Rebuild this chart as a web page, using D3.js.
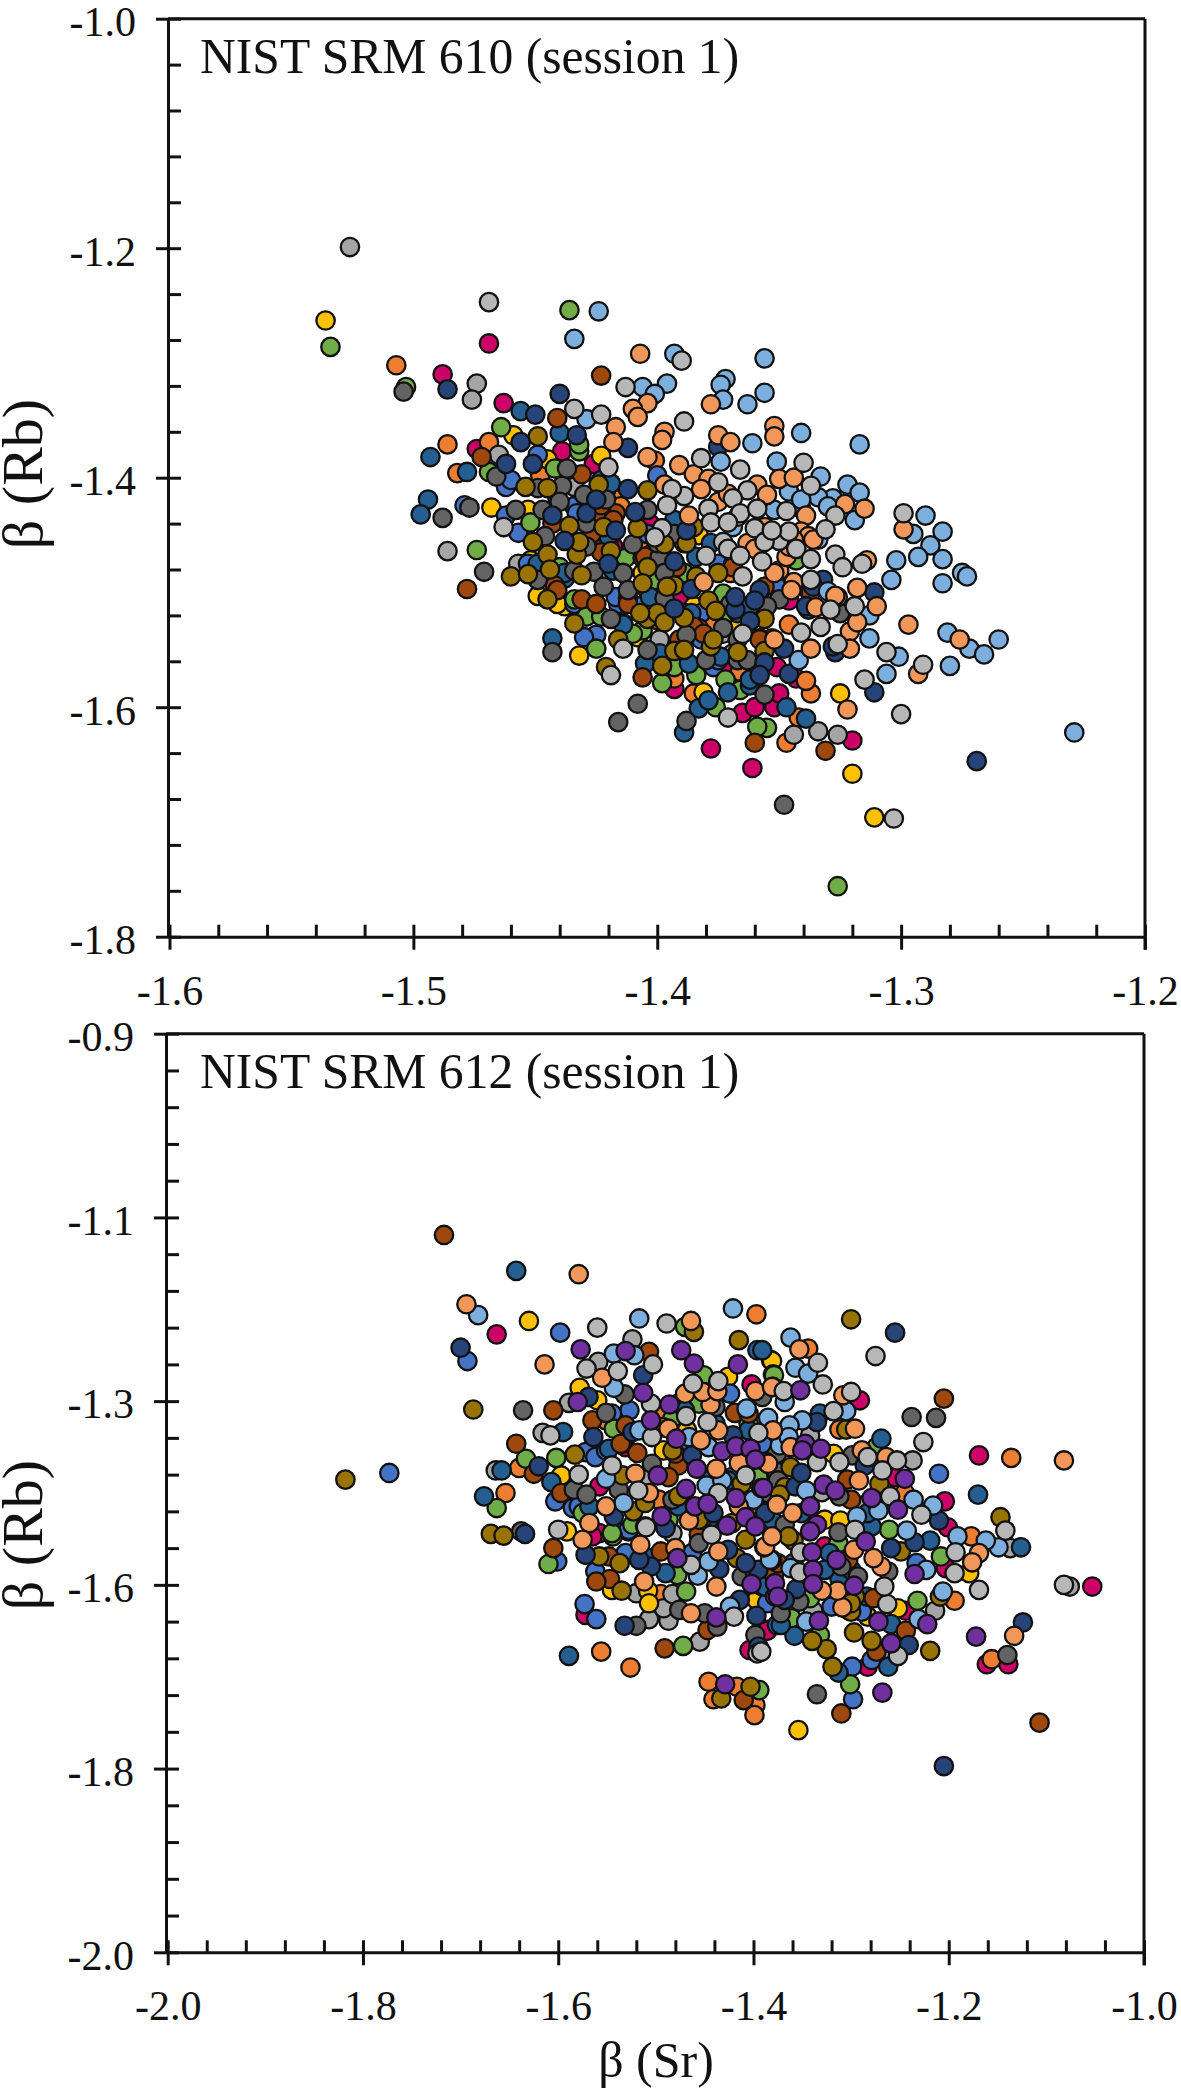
<!DOCTYPE html>
<html>
<head>
<meta charset="utf-8">
<script src="https://cdn.jsdelivr.net/npm/d3@7"></script>
<style>
  html, body { margin: 0; padding: 0; background: #fff; }
  text { font-family: "Liberation Serif", serif; fill: #111; }
  .domain, .tick line, .frame { stroke: #111; stroke-width: 3; fill: none; }
  .tick text { font-size: 42px; font-family: "Liberation Serif", serif; }
  .panel-title { font-size: 49.6px; }
  .axis-label { font-size: 50px; }
  .axis-label-y { font-size: 58px; }
</style>
</head>
<body>
<svg id="chart" width="1181" height="2094"></svg>
<script>
// series colours
const cMagenta = '#CC0066', cOrange = '#ED7D31', cGray = '#A5A5A5', cGold = '#FFC000',
      cBlue = '#4472C4', cGreen = '#70AD47', cDarkBlue = '#255E91', cBrown = '#9E480E',
      cDarkGray = '#636363', cOlive = '#997300', cNavy = '#264478', cLightBlue = '#7CAFDD',
      cLightOrange = '#F1975A', cLightGray = '#B7B7B7', cPurple = '#7030A0';

// NIST SRM 610, [beta Sr, beta Rb]
const s610Magenta = [[-1.469,-1.283],[-1.488,-1.310],[-1.463,-1.335],[-1.439,-1.377],[-1.393,-1.584],[-1.365,-1.605],[-1.360,-1.600],[-1.352,-1.600],[-1.350,-1.588],[-1.378,-1.636],[-1.361,-1.653],[-1.320,-1.629],[-1.474,-1.375],[-1.351,-1.565],[-1.372,-1.568],[-1.426,-1.388],[-1.346,-1.507],[-1.343,-1.575],[-1.403,-1.440],[-1.391,-1.507],[-1.418,-1.460]];
const s610Orange = [[-1.507,-1.302],[-1.486,-1.371],[-1.469,-1.369],[-1.482,-1.396],[-1.346,-1.528],[-1.337,-1.588],[-1.339,-1.577],[-1.347,-1.631],[-1.342,-1.609],[-1.385,-1.588],[-1.366,-1.569],[-1.393,-1.575],[-1.353,-1.540],[-1.448,-1.398],[-1.417,-1.419],[-1.415,-1.425],[-1.423,-1.434],[-1.407,-1.454],[-1.378,-1.530],[-1.370,-1.483],[-1.355,-1.544],[-1.385,-1.524],[-1.401,-1.385],[-1.400,-1.524]];
const s610Gray = [[-1.526,-1.199],[-1.474,-1.318],[-1.476,-1.332],[-1.486,-1.464],[-1.344,-1.624],[-1.334,-1.621],[-1.326,-1.624],[-1.465,-1.380],[-1.457,-1.475],[-1.389,-1.457],[-1.434,-1.408],[-1.369,-1.553],[-1.399,-1.541],[-1.373,-1.536]];
const s610Gold = [[-1.536,-1.263],[-1.311,-1.696],[-1.320,-1.658],[-1.325,-1.588],[-1.468,-1.426],[-1.432,-1.555],[-1.423,-1.381],[-1.459,-1.363],[-1.449,-1.503],[-1.438,-1.512],[-1.381,-1.587],[-1.445,-1.384],[-1.453,-1.428],[-1.383,-1.450],[-1.408,-1.539],[-1.410,-1.507],[-1.425,-1.460],[-1.385,-1.512],[-1.434,-1.457],[-1.406,-1.483],[-1.369,-1.530],[-1.441,-1.510],[-1.452,-1.472]];
const s610Blue = [[-1.400,-1.398],[-1.462,-1.408],[-1.462,-1.433],[-1.457,-1.448],[-1.479,-1.424],[-1.425,-1.537],[-1.430,-1.539],[-1.434,-1.510],[-1.416,-1.510],[-1.382,-1.518],[-1.377,-1.565],[-1.449,-1.380],[-1.453,-1.475],[-1.414,-1.541],[-1.417,-1.504],[-1.400,-1.489],[-1.434,-1.425],[-1.460,-1.402],[-1.414,-1.527],[-1.433,-1.431],[-1.441,-1.417],[-1.408,-1.512],[-1.396,-1.478],[-1.382,-1.541],[-1.375,-1.475],[-1.401,-1.495],[-1.351,-1.495],[-1.375,-1.559],[-1.404,-1.449],[-1.421,-1.411]];
const s610Green = [[-1.436,-1.254],[-1.534,-1.286],[-1.326,-1.756],[-1.503,-1.321],[-1.464,-1.356],[-1.474,-1.463],[-1.452,-1.439],[-1.432,-1.377],[-1.432,-1.371],[-1.425,-1.549],[-1.429,-1.521],[-1.406,-1.533],[-1.398,-1.579],[-1.384,-1.572],[-1.376,-1.600],[-1.355,-1.618],[-1.359,-1.617],[-1.372,-1.576],[-1.413,-1.470],[-1.434,-1.506],[-1.469,-1.395],[-1.442,-1.392],[-1.366,-1.585],[-1.373,-1.501],[-1.389,-1.483],[-1.440,-1.478],[-1.423,-1.521],[-1.401,-1.489],[-1.389,-1.518],[-1.371,-1.518],[-1.410,-1.536],[-1.420,-1.457],[-1.343,-1.472],[-1.393,-1.565]];
const s610DarkBlue = [[-1.456,-1.342],[-1.440,-1.361],[-1.493,-1.382],[-1.494,-1.419],[-1.497,-1.432],[-1.443,-1.540],[-1.383,-1.601],[-1.389,-1.622],[-1.371,-1.587],[-1.379,-1.594],[-1.347,-1.600],[-1.339,-1.610],[-1.478,-1.395],[-1.362,-1.581],[-1.387,-1.562],[-1.405,-1.562],[-1.414,-1.528],[-1.438,-1.488],[-1.423,-1.402],[-1.449,-1.475],[-1.438,-1.483],[-1.403,-1.504],[-1.384,-1.469],[-1.378,-1.457],[-1.367,-1.518],[-1.362,-1.512],[-1.419,-1.405],[-1.420,-1.451],[-1.418,-1.481],[-1.399,-1.553],[-1.374,-1.556],[-1.362,-1.576],[-1.386,-1.518],[-1.393,-1.437]];
const s610Brown = [[-1.423,-1.311],[-1.441,-1.348],[-1.472,-1.382],[-1.431,-1.397],[-1.417,-1.431],[-1.478,-1.497],[-1.427,-1.457],[-1.406,-1.470],[-1.442,-1.494],[-1.431,-1.506],[-1.425,-1.510],[-1.412,-1.505],[-1.383,-1.531],[-1.406,-1.574],[-1.360,-1.631],[-1.331,-1.638],[-1.358,-1.540],[-1.369,-1.476],[-1.423,-1.428],[-1.378,-1.541],[-1.338,-1.498],[-1.425,-1.432],[-1.423,-1.424],[-1.423,-1.465],[-1.418,-1.437],[-1.405,-1.469],[-1.412,-1.510],[-1.385,-1.530],[-1.381,-1.536],[-1.358,-1.541],[-1.369,-1.478],[-1.392,-1.478],[-1.427,-1.449],[-1.441,-1.498],[-1.443,-1.440],[-1.391,-1.541],[-1.337,-1.500],[-1.356,-1.495]];
const s610DarkGray = [[-1.504,-1.325],[-1.348,-1.685],[-1.488,-1.435],[-1.477,-1.426],[-1.471,-1.482],[-1.443,-1.552],[-1.408,-1.597],[-1.416,-1.613],[-1.388,-1.612],[-1.466,-1.399],[-1.458,-1.428],[-1.446,-1.451],[-1.439,-1.407],[-1.440,-1.421],[-1.437,-1.392],[-1.429,-1.440],[-1.426,-1.482],[-1.422,-1.495],[-1.414,-1.483],[-1.412,-1.498],[-1.419,-1.523],[-1.404,-1.550],[-1.380,-1.559],[-1.373,-1.531],[-1.350,-1.506],[-1.356,-1.589],[-1.449,-1.489],[-1.367,-1.559],[-1.410,-1.458],[-1.399,-1.469],[-1.397,-1.505],[-1.388,-1.537],[-1.430,-1.415],[-1.447,-1.428],[-1.449,-1.409],[-1.404,-1.428],[-1.429,-1.460],[-1.400,-1.457],[-1.396,-1.454],[-1.393,-1.449],[-1.397,-1.483],[-1.370,-1.510],[-1.363,-1.559],[-1.355,-1.512],[-1.434,-1.481],[-1.421,-1.419],[-1.367,-1.541],[-1.325,-1.518]];
const s610Olive = [[-1.449,-1.364],[-1.454,-1.408],[-1.445,-1.409],[-1.424,-1.406],[-1.404,-1.411],[-1.436,-1.442],[-1.422,-1.443],[-1.408,-1.444],[-1.451,-1.456],[-1.445,-1.467],[-1.433,-1.467],[-1.432,-1.456],[-1.444,-1.480],[-1.460,-1.486],[-1.453,-1.484],[-1.431,-1.485],[-1.404,-1.478],[-1.406,-1.492],[-1.393,-1.494],[-1.396,-1.495],[-1.445,-1.506],[-1.434,-1.527],[-1.404,-1.523],[-1.400,-1.518],[-1.397,-1.526],[-1.389,-1.522],[-1.379,-1.507],[-1.376,-1.516],[-1.356,-1.523],[-1.416,-1.541],[-1.421,-1.565],[-1.398,-1.564],[-1.393,-1.551],[-1.389,-1.550],[-1.378,-1.547],[-1.367,-1.552],[-1.356,-1.551],[-1.385,-1.443],[-1.388,-1.457],[-1.397,-1.458],[-1.384,-1.486],[-1.375,-1.483],[-1.419,-1.464],[-1.407,-1.518],[-1.377,-1.541]];
const s610Navy = [[-1.269,-1.647],[-1.440,-1.327],[-1.486,-1.323],[-1.450,-1.345],[-1.456,-1.369],[-1.433,-1.363],[-1.412,-1.374],[-1.462,-1.388],[-1.451,-1.388],[-1.443,-1.433],[-1.429,-1.431],[-1.425,-1.419],[-1.412,-1.410],[-1.409,-1.430],[-1.417,-1.446],[-1.388,-1.446],[-1.438,-1.455],[-1.420,-1.475],[-1.393,-1.473],[-1.386,-1.497],[-1.393,-1.514],[-1.368,-1.515],[-1.358,-1.498],[-1.362,-1.525],[-1.356,-1.561],[-1.358,-1.572],[-1.348,-1.549],[-1.346,-1.571],[-1.368,-1.504],[-1.332,-1.489],[-1.311,-1.500],[-1.338,-1.515],[-1.327,-1.552],[-1.311,-1.587],[-1.375,-1.373],[-1.360,-1.507],[-1.336,-1.495],[-1.328,-1.547],[-1.339,-1.512]];
const s610LightBlue = [[-1.424,-1.255],[-1.434,-1.279],[-1.393,-1.292],[-1.356,-1.296],[-1.406,-1.321],[-1.396,-1.318],[-1.401,-1.327],[-1.372,-1.314],[-1.374,-1.319],[-1.373,-1.332],[-1.356,-1.326],[-1.363,-1.336],[-1.341,-1.361],[-1.317,-1.371],[-1.361,-1.370],[-1.429,-1.349],[-1.374,-1.386],[-1.351,-1.386],[-1.333,-1.399],[-1.346,-1.412],[-1.322,-1.406],[-1.317,-1.413],[-1.328,-1.418],[-1.334,-1.417],[-1.341,-1.427],[-1.319,-1.437],[-1.352,-1.428],[-1.313,-1.540],[-1.304,-1.489],[-1.302,-1.472],[-1.306,-1.571],[-1.342,-1.559],[-1.313,-1.520],[-1.330,-1.499],[-1.290,-1.433],[-1.295,-1.449],[-1.283,-1.447],[-1.288,-1.459],[-1.293,-1.469],[-1.283,-1.471],[-1.283,-1.492],[-1.275,-1.483],[-1.273,-1.486],[-1.281,-1.535],[-1.272,-1.549],[-1.266,-1.554],[-1.260,-1.541],[-1.280,-1.564],[-1.301,-1.556],[-1.229,-1.622],[-1.334,-1.454],[-1.341,-1.419],[-1.330,-1.425],[-1.369,-1.443]];
const s610LightOrange = [[-1.407,-1.292],[-1.404,-1.335],[-1.410,-1.340],[-1.408,-1.347],[-1.378,-1.336],[-1.417,-1.356],[-1.418,-1.369],[-1.397,-1.360],[-1.398,-1.367],[-1.375,-1.363],[-1.370,-1.369],[-1.352,-1.355],[-1.352,-1.364],[-1.404,-1.382],[-1.391,-1.389],[-1.385,-1.397],[-1.379,-1.401],[-1.382,-1.410],[-1.397,-1.406],[-1.359,-1.406],[-1.355,-1.415],[-1.375,-1.421],[-1.350,-1.401],[-1.344,-1.400],[-1.339,-1.433],[-1.387,-1.433],[-1.363,-1.457],[-1.360,-1.462],[-1.341,-1.447],[-1.338,-1.451],[-1.350,-1.481],[-1.344,-1.491],[-1.345,-1.498],[-1.381,-1.491],[-1.347,-1.469],[-1.323,-1.423],[-1.315,-1.427],[-1.318,-1.496],[-1.310,-1.512],[-1.326,-1.504],[-1.335,-1.513],[-1.321,-1.534],[-1.318,-1.526],[-1.321,-1.549],[-1.337,-1.549],[-1.314,-1.472],[-1.322,-1.602],[-1.352,-1.541],[-1.297,-1.528],[-1.299,-1.445],[-1.276,-1.541],[-1.327,-1.503],[-1.293,-1.571],[-1.371,-1.414],[-1.367,-1.434],[-1.356,-1.443],[-1.344,-1.454],[-1.346,-1.460],[-1.336,-1.454],[-1.352,-1.483]];
const s610LightGray = [[-1.469,-1.247],[-1.390,-1.298],[-1.413,-1.321],[-1.434,-1.340],[-1.423,-1.345],[-1.389,-1.351],[-1.420,-1.391],[-1.382,-1.383],[-1.366,-1.393],[-1.340,-1.387],[-1.337,-1.407],[-1.375,-1.404],[-1.363,-1.411],[-1.389,-1.416],[-1.394,-1.410],[-1.369,-1.418],[-1.396,-1.424],[-1.379,-1.427],[-1.366,-1.431],[-1.359,-1.427],[-1.347,-1.429],[-1.327,-1.433],[-1.331,-1.445],[-1.398,-1.444],[-1.401,-1.452],[-1.378,-1.439],[-1.371,-1.439],[-1.360,-1.444],[-1.373,-1.456],[-1.371,-1.462],[-1.350,-1.455],[-1.356,-1.456],[-1.343,-1.462],[-1.346,-1.447],[-1.353,-1.446],[-1.380,-1.468],[-1.366,-1.468],[-1.357,-1.473],[-1.365,-1.486],[-1.337,-1.471],[-1.337,-1.489],[-1.327,-1.467],[-1.324,-1.478],[-1.316,-1.475],[-1.319,-1.512],[-1.329,-1.515],[-1.333,-1.530],[-1.341,-1.535],[-1.365,-1.536],[-1.326,-1.545],[-1.306,-1.552],[-1.315,-1.576],[-1.299,-1.431],[-1.300,-1.606],[-1.291,-1.563],[-1.419,-1.572],[-1.371,-1.609],[-1.303,-1.697],[-1.463,-1.443],[-1.414,-1.549]];

// NIST SRM 612, [beta Sr, beta Rb]
const s612Magenta = [[-1.663,-1.260],[-1.402,-1.320],[-1.558,-1.498],[-1.572,-1.596],[-1.386,-1.614],[-1.404,-1.638],[-1.291,-1.339],[-1.255,-1.431],[-1.169,-1.405],[-1.204,-1.460],[-1.201,-1.491],[-1.203,-1.540],[-1.244,-1.591],[-1.283,-1.658],[-1.386,-1.615],[-1.161,-1.655],[-1.139,-1.655],[-1.053,-1.562],[-1.558,-1.442],[-1.531,-1.395],[-1.565,-1.502],[-1.327,-1.514]];
const s612Orange = [[-1.397,-1.236],[-1.654,-1.450],[-1.640,-1.420],[-1.495,-1.571],[-1.556,-1.640],[-1.526,-1.659],[-1.446,-1.676],[-1.417,-1.682],[-1.441,-1.697],[-1.398,-1.704],[-1.399,-1.716],[-1.344,-1.277],[-1.312,-1.374],[-1.136,-1.408],[-1.245,-1.450],[-1.177,-1.502],[-1.194,-1.579],[-1.156,-1.649],[-1.494,-1.357],[-1.497,-1.458],[-1.551,-1.363],[-1.521,-1.427]];
const s612Gray = [[-1.616,-1.378],[-1.664,-1.423],[-1.589,-1.342],[-1.559,-1.293],[-1.524,-1.266],[-1.509,-1.433],[-1.487,-1.603],[-1.507,-1.601],[-1.492,-1.588],[-1.483,-1.571],[-1.520,-1.570],[-1.455,-1.628],[-1.342,-1.381],[-1.237,-1.411],[-1.330,-1.449],[-1.285,-1.464],[-1.137,-1.516],[-1.076,-1.562],[-1.214,-1.591],[-1.339,-1.591],[-1.264,-1.648],[-1.483,-1.498]];
const s612Gold = [[-1.630,-1.244],[-1.597,-1.429],[-1.591,-1.496],[-1.578,-1.324],[-1.560,-1.339],[-1.492,-1.399],[-1.426,-1.311],[-1.382,-1.291],[-1.508,-1.567],[-1.507,-1.582],[-1.397,-1.578],[-1.381,-1.292],[-1.318,-1.403],[-1.327,-1.482],[-1.311,-1.483],[-1.179,-1.546],[-1.354,-1.734],[-1.468,-1.375],[-1.283,-1.598],[-1.252,-1.588],[-1.391,-1.562],[-1.545,-1.566]];
const s612Blue = [[-1.773,-1.426],[-1.598,-1.258],[-1.693,-1.292],[-1.527,-1.351],[-1.572,-1.401],[-1.562,-1.407],[-1.603,-1.460],[-1.585,-1.468],[-1.424,-1.331],[-1.601,-1.532],[-1.528,-1.496],[-1.531,-1.522],[-1.562,-1.544],[-1.573,-1.583],[-1.561,-1.601],[-1.386,-1.582],[-1.210,-1.427],[-1.233,-1.534],[-1.289,-1.592],[-1.279,-1.650],[-1.299,-1.658],[-1.298,-1.697],[-1.545,-1.355],[-1.551,-1.399],[-1.579,-1.466],[-1.528,-1.494],[-1.466,-1.399],[-1.477,-1.343],[-1.422,-1.431],[-1.391,-1.391],[-1.359,-1.534],[-1.320,-1.586],[-1.463,-1.522]];
const s612Green = [[-1.470,-1.251],[-1.663,-1.468],[-1.633,-1.409],[-1.602,-1.408],[-1.543,-1.373],[-1.483,-1.361],[-1.451,-1.309],[-1.380,-1.308],[-1.544,-1.502],[-1.610,-1.535],[-1.478,-1.548],[-1.469,-1.568],[-1.472,-1.633],[-1.394,-1.686],[-1.379,-1.309],[-1.274,-1.395],[-1.261,-1.494],[-1.208,-1.526],[-1.232,-1.579],[-1.301,-1.679],[-1.332,-1.620],[-1.342,-1.576],[-1.575,-1.474],[-1.524,-1.488],[-1.545,-1.498],[-1.405,-1.367],[-1.395,-1.431],[-1.456,-1.343],[-1.487,-1.482],[-1.313,-1.510],[-1.361,-1.600]];
const s612DarkBlue = [[-1.643,-1.184],[-1.396,-1.279],[-1.595,-1.377],[-1.658,-1.423],[-1.676,-1.454],[-1.607,-1.437],[-1.548,-1.397],[-1.490,-1.546],[-1.589,-1.645],[-1.376,-1.608],[-1.391,-1.279],[-1.332,-1.355],[-1.269,-1.385],[-1.170,-1.452],[-1.385,-1.488],[-1.126,-1.515],[-1.219,-1.507],[-1.259,-1.607],[-1.262,-1.658],[-1.313,-1.665],[-1.358,-1.621],[-1.372,-1.608],[-1.312,-1.552],[-1.534,-1.391],[-1.439,-1.367],[-1.470,-1.351],[-1.405,-1.375],[-1.443,-1.431],[-1.426,-1.435],[-1.381,-1.482],[-1.446,-1.482],[-1.477,-1.466],[-1.568,-1.466],[-1.351,-1.474],[-1.279,-1.490],[-1.283,-1.474],[-1.322,-1.522],[-1.300,-1.542],[-1.327,-1.542],[-1.303,-1.590],[-1.284,-1.574],[-1.388,-1.562],[-1.511,-1.526]];
const s612Brown = [[-1.717,-1.141],[-1.605,-1.351],[-1.643,-1.391],[-1.625,-1.427],[-1.597,-1.450],[-1.507,-1.281],[-1.565,-1.363],[-1.531,-1.369],[-1.536,-1.391],[-1.519,-1.402],[-1.477,-1.417],[-1.487,-1.431],[-1.419,-1.354],[-1.605,-1.516],[-1.548,-1.526],[-1.495,-1.520],[-1.547,-1.553],[-1.561,-1.556],[-1.491,-1.636],[-1.447,-1.614],[-1.410,-1.698],[-1.205,-1.337],[-1.304,-1.434],[-1.300,-1.458],[-1.379,-1.548],[-1.277,-1.576],[-1.244,-1.615],[-1.274,-1.640],[-1.310,-1.714],[-1.107,-1.725],[-1.480,-1.403],[-1.405,-1.355],[-1.375,-1.534],[-1.303,-1.530],[-1.456,-1.500],[-1.381,-1.530]];
const s612DarkGray = [[-1.636,-1.351],[-1.638,-1.496],[-1.584,-1.446],[-1.571,-1.452],[-1.551,-1.354],[-1.532,-1.332],[-1.504,-1.415],[-1.520,-1.609],[-1.476,-1.590],[-1.450,-1.594],[-1.437,-1.610],[-1.398,-1.620],[-1.238,-1.359],[-1.213,-1.360],[-1.299,-1.405],[-1.376,-1.425],[-1.312,-1.454],[-1.313,-1.497],[-1.368,-1.488],[-1.293,-1.550],[-1.262,-1.544],[-1.353,-1.580],[-1.372,-1.594],[-1.335,-1.691],[-1.140,-1.644],[-1.538,-1.446],[-1.483,-1.458],[-1.453,-1.482],[-1.391,-1.335],[-1.439,-1.347],[-1.385,-1.450],[-1.376,-1.403],[-1.375,-1.435],[-1.310,-1.538],[-1.412,-1.550],[-1.456,-1.510]];
const s612Olive = [[-1.818,-1.434],[-1.687,-1.350],[-1.461,-1.257],[-1.415,-1.267],[-1.583,-1.404],[-1.534,-1.429],[-1.523,-1.472],[-1.669,-1.499],[-1.656,-1.501],[-1.558,-1.526],[-1.537,-1.534],[-1.535,-1.567],[-1.417,-1.528],[-1.433,-1.696],[-1.403,-1.682],[-1.300,-1.242],[-1.147,-1.479],[-1.271,-1.439],[-1.305,-1.374],[-1.362,-1.419],[-1.249,-1.520],[-1.359,-1.507],[-1.300,-1.592],[-1.297,-1.617],[-1.279,-1.627],[-1.319,-1.658],[-1.325,-1.637],[-1.340,-1.627],[-1.209,-1.574],[-1.219,-1.639],[-1.493,-1.371],[-1.511,-1.462],[-1.477,-1.454],[-1.422,-1.486],[-1.391,-1.474],[-1.483,-1.399],[-1.412,-1.439],[-1.456,-1.482],[-1.368,-1.443],[-1.373,-1.452],[-1.395,-1.470],[-1.364,-1.502],[-1.296,-1.574],[-1.300,-1.582],[-1.408,-1.506]];
const s612Navy = [[-1.700,-1.276],[-1.255,-1.258],[-1.513,-1.309],[-1.569,-1.335],[-1.564,-1.383],[-1.524,-1.377],[-1.620,-1.418],[-1.543,-1.478],[-1.490,-1.492],[-1.441,-1.474],[-1.463,-1.405],[-1.421,-1.381],[-1.634,-1.499],[-1.572,-1.524],[-1.505,-1.538],[-1.435,-1.541],[-1.399,-1.544],[-1.414,-1.578],[-1.397,-1.597],[-1.395,-1.634],[-1.532,-1.609],[-1.335,-1.365],[-1.286,-1.417],[-1.357,-1.442],[-1.351,-1.426],[-1.210,-1.483],[-1.235,-1.509],[-1.259,-1.516],[-1.124,-1.605],[-1.205,-1.777],[-1.356,-1.565],[-1.241,-1.632],[-1.388,-1.474],[-1.368,-1.578],[-1.395,-1.542],[-1.408,-1.534],[-1.426,-1.518],[-1.517,-1.530]];
const s612LightBlue = [[-1.682,-1.237],[-1.517,-1.241],[-1.421,-1.229],[-1.522,-1.285],[-1.543,-1.283],[-1.543,-1.324],[-1.407,-1.349],[-1.385,-1.360],[-1.551,-1.433],[-1.533,-1.462],[-1.448,-1.441],[-1.400,-1.458],[-1.457,-1.549],[-1.446,-1.532],[-1.424,-1.586],[-1.362,-1.264],[-1.357,-1.300],[-1.344,-1.307],[-1.368,-1.341],[-1.305,-1.352],[-1.350,-1.363],[-1.363,-1.369],[-1.373,-1.393],[-1.346,-1.447],[-1.236,-1.458],[-1.216,-1.465],[-1.272,-1.471],[-1.294,-1.478],[-1.243,-1.495],[-1.191,-1.502],[-1.149,-1.515],[-1.162,-1.507],[-1.223,-1.542],[-1.231,-1.601],[-1.206,-1.568],[-1.346,-1.604],[-1.383,-1.530],[-1.362,-1.540],[-1.466,-1.383],[-1.446,-1.395],[-1.432,-1.435],[-1.517,-1.375],[-1.364,-1.383]];
const s612LightOrange = [[-1.694,-1.224],[-1.579,-1.188],[-1.614,-1.296],[-1.464,-1.244],[-1.555,-1.312],[-1.551,-1.466],[-1.466,-1.483],[-1.438,-1.421],[-1.415,-1.414],[-1.415,-1.466],[-1.398,-1.328],[-1.380,-1.323],[-1.380,-1.375],[-1.454,-1.387],[-1.436,-1.375],[-1.444,-1.344],[-1.470,-1.331],[-1.452,-1.329],[-1.437,-1.328],[-1.568,-1.486],[-1.575,-1.506],[-1.516,-1.512],[-1.512,-1.556],[-1.480,-1.516],[-1.436,-1.520],[-1.389,-1.515],[-1.438,-1.562],[-1.464,-1.594],[-1.082,-1.411],[-1.353,-1.278],[-1.381,-1.323],[-1.308,-1.333],[-1.296,-1.373],[-1.362,-1.395],[-1.387,-1.413],[-1.289,-1.399],[-1.264,-1.407],[-1.292,-1.435],[-1.360,-1.474],[-1.376,-1.464],[-1.169,-1.522],[-1.176,-1.533],[-1.133,-1.621],[-1.309,-1.587],[-1.314,-1.567],[-1.269,-1.538],[-1.277,-1.528],[-1.297,-1.518],[-1.388,-1.514],[-1.330,-1.567],[-1.521,-1.427],[-1.507,-1.450],[-1.385,-1.415],[-1.487,-1.373],[-1.381,-1.502]];
const s612LightGray = [[-1.560,-1.252],[-1.489,-1.247],[-1.608,-1.381],[-1.579,-1.428],[-1.545,-1.417],[-1.518,-1.447],[-1.511,-1.490],[-1.436,-1.450],[-1.408,-1.429],[-1.395,-1.378],[-1.436,-1.316],[-1.462,-1.319],[-1.503,-1.296],[-1.571,-1.301],[-1.539,-1.304],[-1.505,-1.343],[-1.504,-1.383],[-1.469,-1.358],[-1.447,-1.365],[-1.600,-1.494],[-1.510,-1.491],[-1.464,-1.536],[-1.443,-1.500],[-1.420,-1.598],[-1.396,-1.642],[-1.275,-1.286],[-1.226,-1.389],[-1.142,-1.495],[-1.334,-1.294],[-1.329,-1.320],[-1.369,-1.328],[-1.300,-1.329],[-1.318,-1.352],[-1.335,-1.413],[-1.312,-1.413],[-1.283,-1.407],[-1.253,-1.411],[-1.268,-1.423],[-1.260,-1.454],[-1.228,-1.476],[-1.296,-1.494],[-1.193,-1.521],[-1.194,-1.546],[-1.169,-1.566],[-1.082,-1.560],[-1.263,-1.583],[-1.266,-1.562],[-1.252,-1.645],[-1.353,-1.545],[-1.352,-1.521],[-1.392,-1.640]];
const s612Purple = [[-1.498,-1.429],[-1.494,-1.478],[-1.469,-1.445],[-1.460,-1.466],[-1.447,-1.463],[-1.418,-1.456],[-1.392,-1.444],[-1.408,-1.479],[-1.427,-1.489],[-1.398,-1.490],[-1.458,-1.421],[-1.432,-1.400],[-1.418,-1.394],[-1.403,-1.397],[-1.398,-1.410],[-1.416,-1.296],[-1.461,-1.295],[-1.474,-1.279],[-1.531,-1.280],[-1.577,-1.278],[-1.513,-1.330],[-1.486,-1.344],[-1.580,-1.341],[-1.505,-1.363],[-1.479,-1.385],[-1.478,-1.528],[-1.402,-1.559],[-1.378,-1.574],[-1.438,-1.599],[-1.429,-1.679],[-1.352,-1.327],[-1.347,-1.391],[-1.350,-1.399],[-1.331,-1.397],[-1.245,-1.433],[-1.328,-1.440],[-1.316,-1.447],[-1.390,-1.444],[-1.279,-1.456],[-1.252,-1.470],[-1.342,-1.466],[-1.335,-1.488],[-1.342,-1.496],[-1.172,-1.622],[-1.268,-1.689],[-1.222,-1.607],[-1.272,-1.604],[-1.259,-1.630],[-1.235,-1.547],[-1.285,-1.508],[-1.297,-1.561],[-1.315,-1.530],[-1.340,-1.521],[-1.339,-1.542],[-1.339,-1.559],[-1.378,-1.558],[-1.375,-1.574],[-1.333,-1.603]];

// bottom to top drawing order
const series610 = [[s610Magenta, cMagenta], [s610Orange, cOrange], [s610Gray, cGray], [s610Gold, cGold], [s610Blue, cBlue], [s610Green, cGreen], [s610DarkBlue, cDarkBlue], [s610Brown, cBrown], [s610DarkGray, cDarkGray], [s610Olive, cOlive], [s610Navy, cNavy], [s610LightBlue, cLightBlue], [s610LightOrange, cLightOrange], [s610LightGray, cLightGray]];
const series612 = [[s612Magenta, cMagenta], [s612Orange, cOrange], [s612Gray, cGray], [s612Gold, cGold], [s612Blue, cBlue], [s612Green, cGreen], [s612DarkBlue, cDarkBlue], [s612Brown, cBrown], [s612DarkGray, cDarkGray], [s612Olive, cOlive], [s612Navy, cNavy], [s612LightBlue, cLightBlue], [s612LightOrange, cLightOrange], [s612LightGray, cLightGray], [s612Purple, cPurple]];

// ticks. The lower panel's y labels are rounded from steps of 0.22, as in the original
const xMajor610 = [-1.6, -1.5, -1.4, -1.3, -1.2];
const xLabels610 = ['-1.6', '-1.5', '-1.4', '-1.3', '-1.2'];
const xMinor610 = [-1.58, -1.56, -1.54, -1.52, -1.48, -1.46, -1.44, -1.42, -1.38, -1.36, -1.34, -1.32, -1.28, -1.26, -1.24, -1.22];
const yMajor610 = [-1.0, -1.2, -1.4, -1.6, -1.8];
const yLabels610 = ['-1.0', '-1.2', '-1.4', '-1.6', '-1.8'];
const yMinor610 = [-1.04, -1.08, -1.12, -1.16, -1.24, -1.28, -1.32, -1.36, -1.44, -1.48, -1.52, -1.56, -1.64, -1.68, -1.72, -1.76];
const xMajor612 = [-2.0, -1.8, -1.6, -1.4, -1.2, -1.0];
const xLabels612 = ['-2.0', '-1.8', '-1.6', '-1.4', '-1.2', '-1.0'];
const xMinor612 = [-1.96, -1.92, -1.88, -1.84, -1.76, -1.72, -1.68, -1.64, -1.56, -1.52, -1.48, -1.44, -1.36, -1.32, -1.28, -1.24, -1.16, -1.12, -1.08, -1.04];
const yMajor612 = [-0.9, -1.12, -1.34, -1.56, -1.78, -2.0];
const yLabels612 = ['-0.9', '-1.1', '-1.3', '-1.6', '-1.8', '-2.0'];
const yMinor612 = [-0.944, -0.988, -1.032, -1.076, -1.164, -1.208, -1.252, -1.296, -1.384, -1.428, -1.472, -1.516, -1.604, -1.648, -1.692, -1.736, -1.824, -1.868, -1.912, -1.956];

const svg = d3.select('#chart');

function drawPanel(o) {
  const x = d3.scaleLinear().domain(o.xDomain).range(o.xRange);
  const y = d3.scaleLinear().domain(o.yDomain).range(o.yRange);
  const g = svg.append('g');
  const bottom = o.yRange[1], top = o.yRange[0], left = o.axisX, right = o.xRange[1];

  // y axis: major ticks cross the line, minor ticks point inward
  g.append('g').attr('transform', `translate(${left},0)`)
    .call(d3.axisLeft(y).tickValues(o.yMajor).tickSize(12).tickSizeOuter(0).tickPadding(20)
      .tickFormat((d, i) => o.yLabels[i]))
    .call(a => a.selectAll('.tick text').attr('dy', '0.4em'));
  g.append('g').attr('transform', `translate(${left},0)`)
    .call(d3.axisRight(y).tickValues(o.yMajor.concat(o.yMinor)).tickSize(13).tickSizeOuter(0).tickFormat(''))
    .call(a => a.select('.domain').remove());

  // x axis
  g.append('g').attr('transform', `translate(0,${bottom})`)
    .call(d3.axisBottom(x).tickValues(o.xMajor).tickSize(13).tickSizeOuter(0).tickPadding(25)
      .tickFormat((d, i) => o.xLabels[i]));
  g.append('g').attr('transform', `translate(0,${bottom})`)
    .call(d3.axisTop(x).tickValues(o.xMajor.concat(o.xMinor)).tickSize(12).tickSizeOuter(0).tickFormat(''))
    .call(a => a.select('.domain').remove());

  // frame on top and right
  g.append('line').attr('class', 'frame').attr('x1', left).attr('x2', right).attr('y1', top).attr('y2', top);
  g.append('line').attr('class', 'frame').attr('x1', right).attr('x2', right).attr('y1', top).attr('y2', bottom + 13);

  o.series.forEach(([pts, colour]) => {
    g.append('g').selectAll('circle')
      .data(pts)
      .enter()
      .append('circle')
      .attr('cx', d => x(d[0]))
      .attr('cy', d => y(d[1]))
      .attr('r', 9.2)
      .attr('fill', colour)
      .attr('stroke', '#111')
      .attr('stroke-width', 2.3);
  });

  g.append('text').attr('class', 'panel-title')
    .attr('x', 200).attr('y', top + 54).text(o.title);
  g.append('text').attr('class', 'axis-label-y')
    .attr('text-anchor', 'middle')
    .attr('transform', `translate(42,${o.yLabelCenter}) rotate(-90)`)
    .text('β (Rb)');
}

drawPanel({
  title: 'NIST SRM 610 (session 1)',
  xDomain: [-1.6, -1.2], xRange: [169.5, 1145], axisX: 168,
  yDomain: [-1.0, -1.8], yRange: [18.7, 936.7],
  xMajor: xMajor610, xMinor: xMinor610, xLabels: xLabels610,
  yMajor: yMajor610, yMinor: yMinor610, yLabels: yLabels610,
  series: series610, yLabelCenter: 474
});

drawPanel({
  title: 'NIST SRM 612 (session 1)',
  xDomain: [-2.0, -1.0], xRange: [167.7, 1144], axisX: 166,
  yDomain: [-0.9, -2.0], yRange: [1033.7, 1952.3],
  xMajor: xMajor612, xMinor: xMinor612, xLabels: xLabels612,
  yMajor: yMajor612, yMinor: yMinor612, yLabels: yLabels612,
  series: series612, yLabelCenter: 1535
});

svg.append('text').attr('class', 'axis-label')
  .attr('text-anchor', 'middle')
  .attr('x', 656).attr('y', 2077)
  .text('β (Sr)');
</script>
</body>
</html>
